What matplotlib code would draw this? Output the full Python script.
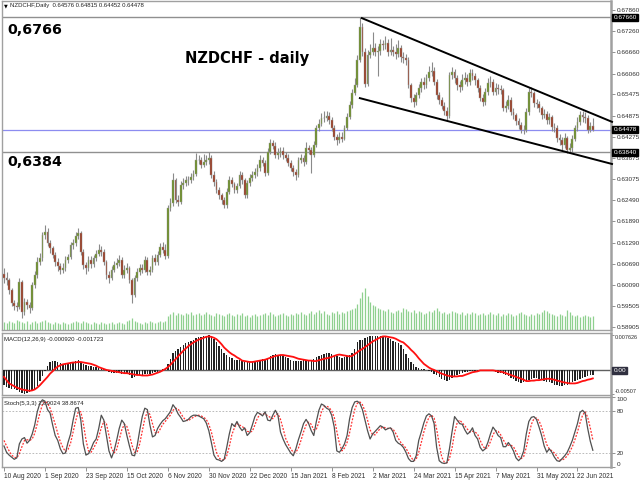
import numpy as np
import matplotlib
matplotlib.use("Agg")
import matplotlib.pyplot as plt

plt.rcParams['font.family'] = ['Liberation Sans', 'DejaVu Sans']

# daily bars, 10 Aug 2020 .. end Jun 2021
first_open = 0.6040
closes = [
    .6029, .6023, .5995, .5958, .5950, .5947, .6018, .5933, .5961, .5953,
    .5944, .6009, .6037, .6074, .6085, .6150, .6159, .6128, .6114, .6094,
    .6074, .6063, .6052, .6057, .6080, .6088, .6122, .6128, .6148, .6156,
    .6102, .6066, .6057, .6080, .6068, .6085, .6097, .6108, .6102, .6074,
    .6037, .6029, .6052, .6066, .6071, .6080, .6037, .6052, .6057, .6023,
    .5981, .6029, .6046, .6057, .6052, .6080, .6046, .6052, .6085, .6074,
    .6094, .6117, .6108, .6091, .6227, .6241, .6306, .6249, .6244, .6292,
    .6297, .6306, .6306, .6314, .6323, .6362, .6362, .6348, .6357, .6362,
    .6368, .6320, .6300, .6278, .6263, .6249, .6235, .6272, .6306, .6294,
    .6278, .6289, .6320, .6306, .6263, .6297, .6311, .6320, .6328, .6340,
    .6362, .6354, .6326, .6385, .6410, .6402, .6376, .6382, .6388, .6376,
    .6368, .6354, .6340, .6328, .6320, .6362, .6368, .6357, .6396, .6391,
    .6376, .6405, .6453, .6464, .6481, .6481, .6487, .6475, .6453, .6427,
    .6419, .6427, .6422, .6453, .6484, .6518, .6552, .6574, .6645, .6738,
    .6667, .6577, .6659, .6667, .6679, .6667, .6670, .6690, .6687, .6693,
    .6667, .6673, .6668, .6662, .6679, .6653, .6650, .6645, .6574, .6537,
    .6526, .6546, .6566, .6583, .6574, .6594, .6611, .6614, .6583, .6546,
    .6532, .6515, .6501, .6487, .6602, .6611, .6594, .6574, .6568, .6588,
    .6594, .6583, .6608, .6600, .6588, .6566, .6537, .6526, .6554, .6580,
    .6583, .6554, .6566, .6563, .6560, .6509, .6515, .6532, .6498, .6489,
    .6472, .6461, .6447, .6447, .6498, .6554, .6552, .6523, .6520, .6509,
    .6489, .6492, .6475, .6484, .6455, .6453, .6424, .6419, .6405, .6424,
    .6391, .6396, .6422, .6453, .6470, .6489, .6484, .6481, .6447, .64576,
    .64478]
highs = [
    .6058, .6045, .6030, .6000, .5968, .5962, .6030, .6024, .5972, .5970,
    .5962, .6018, .6050, .6088, .6100, .6160, .6179, .6170, .6135, .6120,
    .6102, .6085, .6072, .6070, .6092, .6098, .6132, .6140, .6160, .6170,
    .6162, .6110, .6075, .6090, .6090, .6095, .6108, .6125, .6118, .6110,
    .6080, .6048, .6062, .6078, .6085, .6095, .6088, .6065, .6072, .6062,
    .6028, .6038, .6058, .6068, .6068, .6090, .6088, .6064, .6095, .6098,
    .6105, .6128, .6130, .6125, .6235, .6255, .6326, .6312, .6262, .6302,
    .6310, .6318, .6318, .6325, .6335, .6382, .6375, .6372, .6378, .6375,
    .6384, .6375, .6330, .6308, .6285, .6270, .6258, .6282, .6316, .6315,
    .6300, .6298, .6332, .6328, .6312, .6305, .6322, .6332, .6340, .6352,
    .6375, .6370, .6362, .6395, .6422, .6420, .6412, .6395, .6400, .6398,
    .6385, .6378, .6362, .6348, .6338, .6372, .6380, .6376, .6412, .6405,
    .6398, .6415, .6462, .6478, .6495, .6502, .6500, .6498, .6485, .6462,
    .6435, .6440, .6440, .6462, .6495, .6528, .6562, .6595, .6660, .6766,
    .6750, .6680, .6672, .6690, .6724, .6692, .6685, .6705, .6702, .6712,
    .6705, .6708, .6685, .6690, .6700, .6688, .6668, .6662, .6652, .6580,
    .6548, .6555, .6578, .6595, .6598, .6605, .6628, .6640, .6625, .6590,
    .6555, .6540, .6525, .6512, .6612, .6625, .6620, .6602, .6585, .6605,
    .6612, .6605, .6620, .6618, .6608, .6595, .6575, .6548, .6565, .6595,
    .6600, .6590, .6580, .6578, .6575, .6565, .6528, .6545, .6540, .6508,
    .6495, .6482, .6470, .6462, .6508, .6565, .6568, .6558, .6535, .6530,
    .6515, .6505, .6500, .6495, .6490, .6468, .6460, .6435, .6428, .6438,
    .6430, .6410, .6432, .6462, .6485, .6502, .6500, .6498, .6488, .6470,
    .64815]
lows = [
    .6015, .6008, .5985, .5950, .5938, .5935, .5940, .5916, .5925, .5940,
    .5930, .5938, .6000, .6030, .6065, .6078, .6138, .6118, .6100, .6085,
    .6062, .6050, .6040, .6044, .6050, .6070, .6082, .6112, .6120, .6140,
    .6095, .6055, .6040, .6050, .6058, .6060, .6078, .6090, .6090, .6065,
    .6025, .6015, .6022, .6045, .6058, .6062, .6028, .6030, .6042, .6015,
    .5958, .5975, .6020, .6038, .6042, .6045, .6038, .6038, .6045, .6065,
    .6066, .6088, .6100, .6082, .6085, .6218, .6232, .6240, .6232, .6238,
    .6280, .6288, .6292, .6298, .6305, .6318, .6350, .6340, .6342, .6348,
    .6352, .6312, .6290, .6268, .6252, .6238, .6226, .6228, .6265, .6285,
    .6268, .6270, .6282, .6295, .6255, .6255, .6288, .6302, .6310, .6318,
    .6332, .6345, .6318, .6320, .6378, .6392, .6368, .6365, .6372, .6365,
    .6358, .6345, .6330, .6318, .6305, .6315, .6355, .6346, .6350, .6380,
    .6326, .6370, .6398, .6445, .6458, .6470, .6472, .6465, .6445, .6418,
    .6405, .6410, .6412, .6418, .6448, .6478, .6510, .6545, .6568, .6638,
    .6655, .6568, .6570, .6650, .6658, .6655, .6600, .6660, .6672, .6675,
    .6655, .6658, .6655, .6648, .6652, .6640, .6635, .6630, .6565, .6525,
    .6512, .6518, .6538, .6555, .6562, .6565, .6585, .6600, .6575, .6535,
    .6520, .6505, .6490, .6475, .6480, .6590, .6580, .6560, .6555, .6560,
    .6578, .6570, .6575, .6588, .6575, .6555, .6528, .6515, .6518, .6545,
    .6568, .6545, .6545, .6550, .6548, .6500, .6498, .6505, .6490, .6478,
    .6462, .6450, .6438, .6435, .6440, .6490, .6540, .6512, .6508, .6498,
    .6478, .6480, .6465, .6465, .6445, .6440, .6412, .6405, .6390, .6395,
    .6382, .6384, .6385, .6415, .6445, .6462, .6470, .6468, .6438, .6440,
    .64452]
volumes = [
    8, 7, 9, 8, 7, 10, 9, 8, 7, 9,
    6, 8, 9, 7, 8, 9, 10, 8, 7, 6,
    8, 7, 6, 8, 7, 6, 7, 8, 9, 8,
    7, 9, 8, 7, 6, 8, 7, 6, 8, 7,
    6, 7, 8, 6, 7, 8, 7, 6, 9, 10,
    12, 9, 8, 7, 6, 8, 7, 9, 8, 7,
    8, 9, 8, 9, 14, 16, 18, 15, 17, 16,
    15, 17, 16, 18, 15, 16, 17, 15, 16, 18,
    16, 15, 14, 17, 16, 15, 14, 16, 17, 15,
    14, 16, 15, 17, 14, 15, 13, 15, 16, 14,
    15, 16, 17, 15, 18, 16, 14, 15, 16, 17,
    15, 14, 16, 15, 17, 16, 18, 16, 15, 17,
    19, 16, 18, 20, 17, 19, 16, 15, 18, 17,
    19, 16, 18, 17, 19, 20, 21, 22, 26, 32,
    38, 42, 34, 28, 25, 24, 22, 21, 20, 19,
    21, 18, 17, 19, 20, 18, 22, 21, 19, 18,
    20, 17, 19, 18, 16, 17, 19, 18, 20, 22,
    19, 17, 18, 16, 17, 19, 18, 17, 16, 18,
    15, 17, 16, 18, 17, 15, 16, 17, 15, 16,
    18, 16, 15, 17, 14, 16, 15, 17, 16, 14,
    15, 17, 18, 16, 15, 14, 16, 15, 17, 16,
    18, 20, 19, 17, 16, 15, 14, 16, 15, 14,
    20, 18, 15, 14, 15, 13, 14, 15, 14, 13,
    14]

# MACD(12,26,9) main and signal, in 1e-4
macd_main = [
    -32, -35, -37, -39, -41, -43, -47, -49, -50, -49,
    -46, -43, -39, -33, -22, -12, -2, 10, 17, 20,
    21, 19, 16, 14, 14, 15, 17, 19, 21, 22,
    19, 14, 11, 10, 9, 8, 7, 6, 5, 3,
    -1, -4, -5, -5, -5, -5, -7, -7, -7, -9,
    -16, -14, -11, -10, -9, -7, -8, -7, -5, -4,
    -3, 0, 2, 3, 14, 24, 38, 42, 45, 50,
    54, 58, 61, 64, 66, 69, 71, 72, 73, 74,
    76, 73, 68, 61, 53, 45, 37, 32, 29, 26,
    23, 22, 22, 21, 18, 18, 18, 19, 20, 21,
    23, 24, 23, 27, 31, 34, 35, 34, 33, 31,
    29, 26, 23, 20, 21, 21, 21, 22, 22, 21,
    22, 25, 28, 31, 34, 36, 37, 37, 35, 32,
    30, 28, 27, 28, 30, 33, 38, 47, 60, 66,
    66, 69, 72, 74, 74, 74, 74, 73, 73, 71,
    69, 67, 64, 61, 58, 54, 46, 36, 27, 19,
    13, 8, 5, 3, 2, 1, -1, -4, -7, -11,
    -15, -19, -21, -22, -20, -16, -13, -10, -8, -6,
    -4, -3, -2, -1, -2, -3, -2, 0, 1, 0,
    -1, -2, -4, -5, -6, -8, -11, -13, -16, -19,
    -22, -24, -27, -25, -22, -20, -18, -16, -16, -18,
    -20, -22, -24, -26, -28, -31, -32, -33, -33, -32,
    -31, -29, -26, -23, -21, -19, -17, -15, -13, -11,
    -9.2]
macd_signal = [
    -14, -21, -28, -31, -34, -37, -39, -41, -42, -43,
    -44, -43, -41, -37, -32, -26, -20, -14, -7, -2,
    4, 8, 11, 13, 14, 15, 16, 17, 17, 18,
    18, 17, 16, 15, 14, 12, 10, 7, 5, 3,
    1, 0, -1, -2, -3, -4, -5, -6, -6, -7,
    -8, -9, -10, -10, -11, -11, -11, -10, -9, -7,
    -5, -3, 0, 3, 7, 12, 18, 24, 30, 36,
    42, 47, 52, 56, 60, 63, 66, 68, 70, 72,
    73, 72, 70, 67, 62, 56, 49, 44, 39, 35,
    32, 28, 25, 21, 20, 19, 18, 18, 19, 20,
    21, 22, 23, 25, 27, 29, 31, 32, 33, 33,
    32, 31, 30, 29, 27, 25, 24, 23, 22, 21,
    21, 20, 20, 22, 23, 25, 26, 27, 29, 31,
    33, 34, 33, 32, 31, 30, 31, 35, 39, 43,
    46, 50, 54, 58, 62, 65, 68, 71, 73, 73,
    72, 71, 70, 68, 65, 62, 60, 55, 50, 44,
    39, 33, 26, 20, 14, 10, 6, 3, 1, -2,
    -5, -7, -9, -11, -12, -13, -13, -13, -12, -12,
    -10, -8, -6, -4, -3, -2, 0, 0, 0, 0,
    0, 0, -1, -2, -3, -4, -6, -8, -10, -12,
    -14, -16, -18, -20, -23, -23, -22, -22, -21, -21,
    -20, -19, -18, -18, -19, -20, -22, -23, -25, -26,
    -27, -28, -28, -28, -27, -25, -23, -22, -20, -19,
    -17.23]

# Stoch(5,3,3) main and signal
stoch_main = [
    30, 21, 17, 14, 11, 13, 33, 40, 42, 34,
    38, 47, 60, 79, 91, 96, 94, 82, 77, 60,
    45, 38, 26, 19, 20, 35, 47, 67, 84, 85,
    67, 33, 17, 19, 26, 35, 40, 55, 74, 67,
    45, 23, 13, 23, 38, 55, 67, 62, 45, 30,
    17, 16, 30, 52, 72, 84, 82, 60, 43, 45,
    55, 61, 66, 69, 74, 79, 89, 84, 76, 71,
    65, 66, 68, 72, 74, 74, 73, 71, 69, 63,
    52, 35, 17, 11, 10, 8, 11, 28, 47, 62,
    58, 65, 57, 52, 56, 45, 49, 60, 72, 78,
    76, 73, 79, 67, 66, 74, 81, 74, 50, 40,
    32, 26, 20, 16, 26, 39, 50, 62, 68, 62,
    52, 45, 65, 81, 90, 88, 84, 82, 74, 57,
    23, 21, 26, 33, 45, 69, 85, 93, 94, 91,
    82, 67, 52, 40, 47, 51, 55, 59, 57, 53,
    55, 56, 50, 38, 34, 32, 28, 21, 12, 8,
    8, 16, 38, 50, 63, 73, 76, 73, 62, 28,
    9, 6, 5, 6, 26, 50, 72, 67, 62, 61,
    53, 47, 50, 56, 45, 40, 28, 23, 26, 35,
    47, 57, 52, 45, 42, 29, 29, 35, 30, 23,
    13, 9, 13, 23, 47, 65, 71, 72, 68, 57,
    45, 30, 21, 26, 21, 14, 9, 8, 12, 16,
    21, 29, 38, 50, 62, 78, 81, 77, 55, 37,
    23.9024]
stoch_signal = [
    38, 30, 23, 17, 14, 13, 19, 29, 38, 39,
    38, 40, 48, 62, 77, 89, 94, 91, 84, 73,
    61, 48, 36, 28, 22, 25, 34, 50, 66, 79,
    79, 62, 39, 23, 21, 27, 34, 43, 56, 65,
    62, 45, 27, 20, 25, 39, 53, 61, 58, 46,
    31, 21, 21, 33, 51, 69, 79, 75, 62, 49,
    48, 54, 61, 65, 70, 74, 81, 84, 83, 77,
    71, 67, 66, 69, 71, 73, 74, 73, 71, 68,
    61, 50, 35, 21, 13, 10, 10, 16, 29, 46,
    56, 62, 60, 58, 55, 51, 50, 51, 60, 70,
    75, 76, 76, 73, 71, 69, 74, 76, 68, 55,
    41, 33, 26, 21, 21, 27, 38, 50, 60, 64,
    61, 53, 54, 64, 79, 86, 87, 85, 80, 71,
    51, 34, 23, 27, 35, 49, 66, 82, 91, 93,
    89, 80, 67, 53, 46, 46, 51, 55, 57, 56,
    55, 55, 54, 48, 41, 35, 31, 27, 20, 14,
    9, 11, 21, 35, 50, 62, 71, 74, 70, 54,
    33, 14, 7, 6, 12, 27, 49, 63, 67, 63,
    59, 54, 50, 51, 50, 47, 38, 30, 26, 28,
    36, 46, 52, 51, 46, 39, 33, 31, 31, 29,
    22, 15, 12, 15, 28, 45, 61, 69, 70, 66,
    57, 44, 32, 26, 23, 20, 15, 10, 10, 12,
    16, 22, 29, 39, 50, 63, 74, 79, 71, 56,
    38.8674]

date_bars = [0, 16, 32, 48, 64, 80, 96, 112, 128, 144, 160, 176, 192, 208, 224]
date_labels = ['10 Aug 2020', '1 Sep 2020', '23 Sep 2020', '15 Oct 2020', '6 Nov 2020',
               '30 Nov 2020', '22 Dec 2020', '15 Jan 2021', '8 Feb 2021', '2 Mar 2021',
               '24 Mar 2021', '15 Apr 2021', '7 May 2021', '31 May 2021', '22 Jun 2021']
price_ticks = [0.67860, 0.67260, 0.66660, 0.66060, 0.65475, 0.64875, 0.64275, 0.63675,
               0.63075, 0.62490, 0.61890, 0.61290, 0.60690, 0.60090, 0.59505, 0.58905]
level_high = 0.67660
level_low = 0.63840
bid = 0.64478
# channel drawn on the chart: (bar, price) end points
channel_upper = [(139.8, 0.6763), (237.5, 0.6470)]
channel_lower = [(139.0, 0.6537), (237.5, 0.6351)]

W, H = 640, 480
fig = plt.figure(figsize=(6.4, 4.8), dpi=100)

def rect(x0, y0, x1, y1):
    return [x0 / W, 1 - y1 / H, (x1 - x0) / W, (y1 - y0) / H]

xlim = (-0.78, 237.1)
frame = '#a0a0a0'
lab = dict(labelsize=4.6, labelcolor='#303030', length=3, width=0.6, color='#808080', pad=1.2)

ax = fig.add_axes(rect(2, 1, 611, 330))
axm = fig.add_axes(rect(2, 333, 611, 395))
axs = fig.add_axes(rect(2, 397, 611, 467))

n = len(closes)
idx = np.arange(n)
c = np.array(closes)
o = np.concatenate([[first_open], c[:-1]])
h = np.maximum(np.array(highs), np.maximum(o, c))
l = np.minimum(np.array(lows), np.minimum(o, c))
up = c >= o

# volume underneath the candles
axv = ax.twinx()
axv.vlines(idx, 0, volumes, color='#8fd08f', lw=0.9)
axv.set_ylim(0, max(volumes) * 7.8)
axv.axis('off')
ax.set_zorder(axv.get_zorder() + 1)
ax.patch.set_visible(False)

ax.vlines(idx, l, h, color='#8a8a8a', lw=0.8, zorder=3)
body_lo = np.minimum(o, c)
body_h = np.maximum(np.abs(c - o), 0.00008)
ax.bar(idx[up], body_h[up], bottom=body_lo[up], width=0.7, color='#6b8e23',
       edgecolor='#9a9a9a', lw=0.3, zorder=4)
ax.bar(idx[~up], body_h[~up], bottom=body_lo[~up], width=0.7, color='#9b3a20',
       edgecolor='#9a9a9a', lw=0.3, zorder=4)

ax.axhline(level_high, color='#909090', lw=1.0, zorder=2)
ax.axhline(level_low, color='#909090', lw=1.0, zorder=2)
ax.axhline(bid, color='#8c8cf0', lw=0.9, zorder=2)
for p in (channel_upper, channel_lower):
    ax.plot([p[0][0], p[1][0]], [p[0][1], p[1][1]], color='black', lw=1.4, zorder=5,
            clip_on=False)

ax.set_xlim(*xlim)
ax.set_ylim(0.58820, 0.68114)
ax.set_xticks([])
ax.yaxis.tick_right()
ax.set_yticks(price_ticks)
ax.set_yticklabels(['%.5f' % v for v in price_ticks])
ax.tick_params(axis='y', **lab)

ytr = ax.get_yaxis_transform()
for v in (level_high, bid, level_low):
    ax.text(1.004, v, '%.5f' % v, transform=ytr, fontsize=4.6, color='white', va='center',
            ha='left', bbox=dict(boxstyle='square,pad=0.15', fc='black', ec='black'),
            clip_on=False, zorder=10)

fig.text(4 / W, 1 - 6 / H, '\u25bc', fontsize=3.5, va='center', family='DejaVu Sans')
fig.text(10 / W, 1 - 6 / H, 'NZDCHF,Daily  0.64576 0.64815 0.64452 0.64478', fontsize=4.3,
         va='center', color='#202020')
fig.text(7 / W, 1 - 30 / H, '0,6766', fontsize=10.3, fontweight='bold', va='center',
         family='DejaVu Sans')
fig.text(7 / W, 1 - 162 / H, '0,6384', fontsize=10.3, fontweight='bold', va='center',
         family='DejaVu Sans')
fig.text(247 / W, 1 - 59 / H, 'NZDCHF - daily', fontsize=10.5, fontweight='bold',
         va='center', ha='center', family='DejaVu Sans')

# MACD
mm = np.array(macd_main) * 1e-4
ms = np.array(macd_signal) * 1e-4
axm.bar(idx, mm, width=0.55, color='#222222', zorder=3)
axm.plot(idx, ms, color='#ff1010', lw=1.3, zorder=4)
axm.axhline(0, color='#606060', lw=1.0, zorder=2)
axm.set_xlim(*xlim)
axm.set_ylim(-0.00529, 0.00803)
axm.set_xticks([])
axm.yaxis.tick_right()
axm.set_yticks([0.007626, -0.00507])
axm.set_yticklabels(['0.007626', '-0.00507'])
axm.tick_params(axis='y', labelsize=4.0, labelcolor='#303030', length=2, width=0.6,
                color='#808080', pad=0.6)
ml = axm.get_yticklabels()
ml[0].set_va('top')
ml[1].set_va('bottom')
axm.text(1.004, 0, '0.00', transform=axm.get_yaxis_transform(), fontsize=4.6, color='white',
         va='center', ha='left', bbox=dict(boxstyle='square,pad=0.15', fc='#303040', ec='#303040'),
         clip_on=False)
axm.text(0.004, 0.93, 'MACD(12,26,9) -0.000920 -0.001723', transform=axm.transAxes,
         fontsize=4.3, va='top', color='#202020')

# Stochastic
axs.axhline(80, color='#b0b0b0', lw=0.6, ls=(0, (2, 2)))
axs.axhline(20, color='#b0b0b0', lw=0.6, ls=(0, (2, 2)))
axs.plot(idx, stoch_main, color='#505050', lw=0.9, zorder=4)
axs.plot(idx, stoch_signal, color='#ff3030', lw=0.9, ls=(0, (1.5, 1.2)), zorder=3)
axs.set_xlim(*xlim)
axs.set_ylim(0, 100)
axs.yaxis.tick_right()
axs.set_yticks([100, 80, 20, 0])
axs.set_yticklabels(['100', '80', '20', '0'])
axs.tick_params(axis='y', **lab)
sl = axs.get_yticklabels()
sl[0].set_va('top')
sl[-1].set_va('bottom')
axs.set_xticks(date_bars)
axs.set_xticklabels(date_labels, ha='left')
axs.tick_params(axis='x', labelsize=4.8, labelcolor='#303030', length=3, width=0.6,
                color='#808080', pad=1.5)
axs.text(0.004, 0.95, 'Stoch(5,3,3) 23.9024 38.8674', transform=axs.transAxes,
         fontsize=4.3, va='top', color='#202020')

for a in (ax, axm, axs):
    for s in a.spines.values():
        s.set_color(frame)
        s.set_linewidth(1.0)
    a.spines['right'].set_linewidth(1.8)

fig.savefig('out.png', dpi=100, facecolor='white')
